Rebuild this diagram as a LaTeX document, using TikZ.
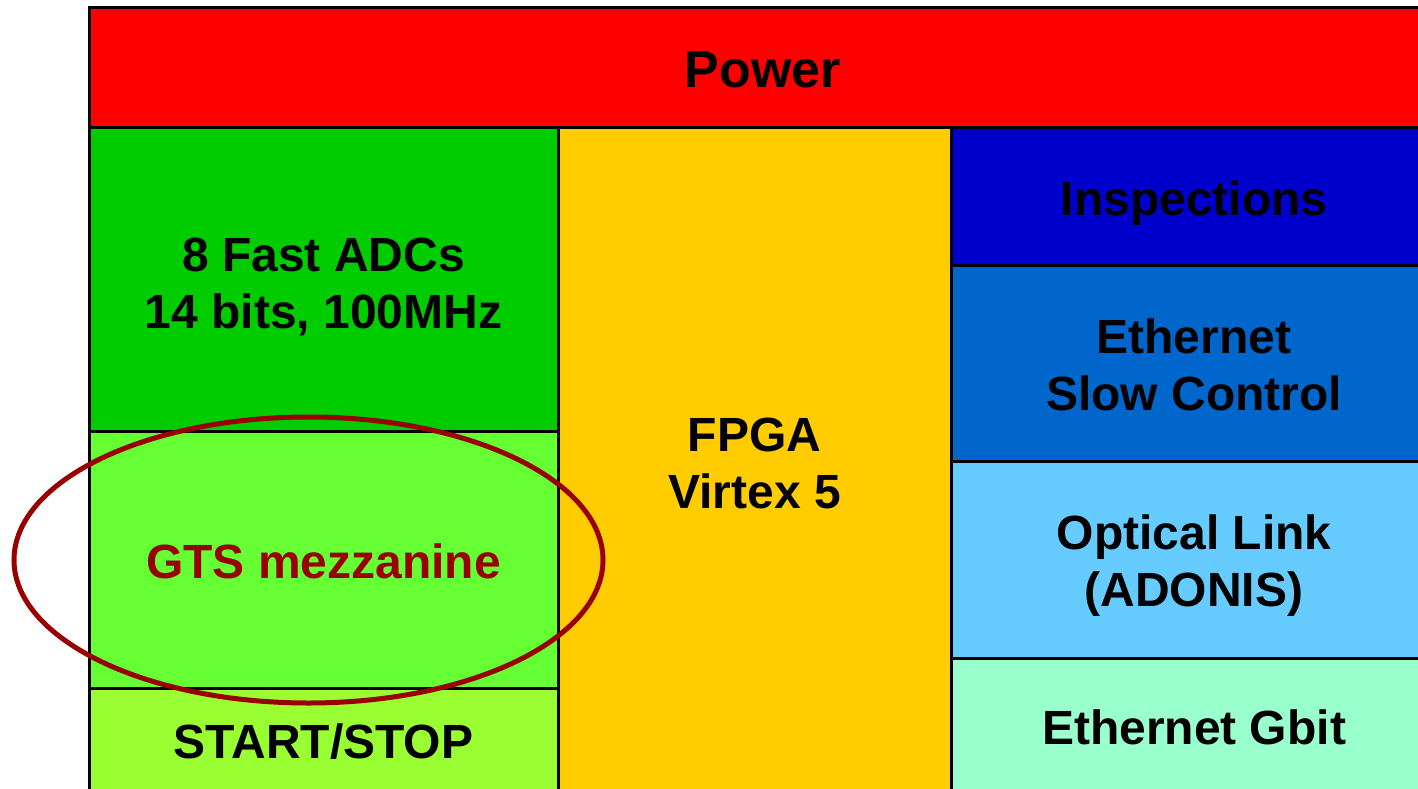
\documentclass[tikz,border=0pt]{standalone}
\usepackage{fontspec}
\setmainfont{Liberation Sans}
\definecolor{cPower}{HTML}{FF0000}
\definecolor{cAdc}{HTML}{00CC00}
\definecolor{cGts}{HTML}{66FF33}
\definecolor{cStart}{HTML}{99FF33}
\definecolor{cFpga}{HTML}{FFCC00}
\definecolor{cInsp}{HTML}{0000CC}
\definecolor{cEth}{HTML}{0066CC}
\definecolor{cOpt}{HTML}{66CCFF}
\definecolor{cGbit}{HTML}{99FFCC}
\definecolor{cRing}{HTML}{990000}
\tikzset{
  blk/.style={draw=black, line width=3pt, rectangle, inner sep=0pt, outer sep=0pt},
  txt/.style={inner sep=0pt, align=center, font=\fontsize{48}{57}\selectfont\bfseries, text=black},
}
\begin{document}
\begin{tikzpicture}[x=1pt,y=-1pt]
\useasboundingbox (0,0) rectangle (1418,789);
\begin{scope}
\clip (0,0) rectangle (1418,789);
\node[blk, fill=cPower, minimum width=1348, minimum height=120] (power) at (763,68) {};
\node[blk, fill=cAdc, minimum width=469, minimum height=303] (adc) at (323.5,279.5) {};
\node[blk, fill=cGts, minimum width=469, minimum height=257] (gts) at (323.5,559.5) {};
\node[blk, fill=cStart, minimum width=469, minimum height=108] (start) at (323.5,742) {};
\node[blk, fill=cFpga, minimum width=393, minimum height=668] (fpga) at (754.5,462) {};
\node[blk, fill=cInsp, minimum width=486, minimum height=137] (insp) at (1194,196.5) {};
\node[blk, fill=cEth, minimum width=486, minimum height=196] (eth) at (1194,363) {};
\node[blk, fill=cOpt, minimum width=486, minimum height=197] (opt) at (1194,559.5) {};
\node[blk, fill=cGbit, minimum width=486, minimum height=138] (gbit) at (1194,727) {};
\end{scope}
\node[txt, font=\fontsize{52}{60}\selectfont\bfseries] (powerT) at ([yshift=-2pt]power.center) {Power};
\node[txt] (adcT) at ([yshift=-7pt]adc.center) {8 Fast ADCs\\14 bits, 100MHz};
\node[txt, text=cRing] (gtsT) at ([yshift=-2pt]gts.center) {GTS mezzanine};
\node[txt] (startT) at (start.center) {START/STOP};
\node[txt] (fpgaT) at ([yshift=-1pt]fpga.center) {FPGA\\Virtex 5};
\node[txt] (inspT) at ([yshift=-7pt]insp.center) {Inspections};
\node[txt] (ethT) at ([yshift=-1.5pt]eth.center) {Ethernet\\Slow Control};
\node[txt] (optT) at ([yshift=-6pt]opt.center) {Optical Link\\(ADONIS)};
\node[txt] (gbitT) at (gbit.center) {Ethernet Gbit};
\draw[cRing, line width=5pt] (308.5,560) ellipse [x radius=294.5, y radius=143];
\end{tikzpicture}
\end{document}
